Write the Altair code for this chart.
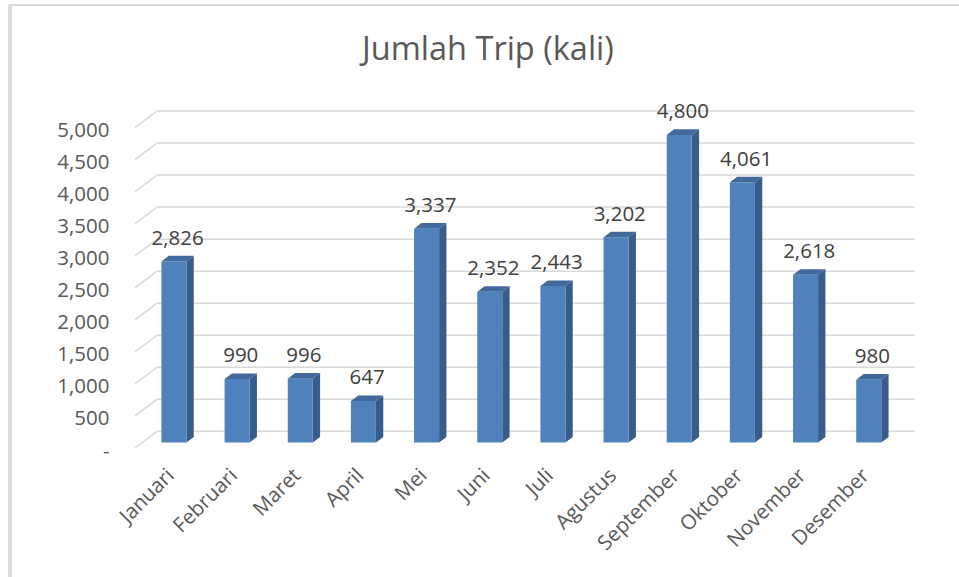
import altair as alt
import pandas as pd

# Monthly trip counts
months = ["Januari", "Februari", "Maret", "April", "Mei", "Juni", "Juli",
          "Agustus", "September", "Oktober", "November", "Desember"]
trips = [2826, 990, 996, 647, 3337, 2352, 2443, 3202, 4800, 4061, 2618, 980]
y_ticks = [0, 500, 1000, 1500, 2000, 2500, 3000, 3500, 4000, 4500, 5000]
title_text = "Jumlah Trip (kali)"

# 3-D projection: a full step of depth shifts points right (in category
# units) and up (in value units). Bars occupy the middle third of the depth.
DEPTH_X = 0.3487
DEPTH_Y = 260
BAR_W = 0.396
Z_FRONT, Z_BACK = 1 / 3, 2 / 3

FRONT = "#4F81BD"
SIDE = "#385D8A"
TOP = "#41699C"
GRID = "#D9D9D9"
TEXT = "#595959"
FONT = "Open Sans"

n = len(months)
x_lo, x_hi = -0.5, n - 0.5
y_max = max(y_ticks) + DEPTH_Y

# front faces
front = pd.DataFrame({
    "month": months,
    "x": [i + DEPTH_X * Z_FRONT - BAR_W / 2 for i in range(n)],
    "x2": [i + DEPTH_X * Z_FRONT + BAR_W / 2 for i in range(n)],
    "y": [v + DEPTH_Y * Z_FRONT for v in trips],
    "y2": [DEPTH_Y * Z_FRONT] * n,
})

# side faces (parallelograms between front and back depth)
side_rows = []
for i, (m, v) in enumerate(zip(months, trips)):
    for z in (Z_FRONT, Z_BACK):
        side_rows.append({
            "month": m,
            "x": i + BAR_W / 2 + DEPTH_X * z,
            "y": v + DEPTH_Y * z,
            "y2": DEPTH_Y * z,
        })
side = pd.DataFrame(side_rows)

# top faces
top_rows = []
ddx = DEPTH_X * (Z_BACK - Z_FRONT)
ddy = DEPTH_Y * (Z_BACK - Z_FRONT)
for i, (m, v) in enumerate(zip(months, trips)):
    xl = i + DEPTH_X * Z_FRONT - BAR_W / 2
    xr = xl + BAR_W
    base = v + DEPTH_Y * Z_FRONT
    for px, py, py2 in [(xl, base, base), (xl + ddx, base, base + ddy),
                        (xr, base, base + ddy), (xr + ddx, base + ddy, base + ddy)]:
        top_rows.append({"month": m, "x": px, "y": py, "y2": py2})
top = pd.DataFrame(top_rows)

labels = pd.DataFrame({
    "month": months,
    "trips": trips,
    "x": [i + DEPTH_X * 0.5 for i in range(n)],
    "y": [v + DEPTH_Y * Z_BACK for v in trips],
})

grid = pd.DataFrame({"g": y_ticks})
grid["back"] = grid["g"] + DEPTH_Y
grid["lx"] = x_lo
grid["rx"] = x_lo + DEPTH_X

xs = alt.Scale(domain=[x_lo, x_hi + DEPTH_X], nice=False, zero=False)
ys = alt.Scale(domain=[0, y_max], nice=False, zero=False)

month_js = "[" + ",".join("'%s'" % m for m in months) + "]"

# shared axes: month names under the floor, value labels at the front edge
xaxis = alt.Axis(
    values=list(range(n)), labelExpr=month_js + "[datum.value]",
    labelAngle=-45, labelOverlap=False, domain=False, ticks=False, grid=False,
    title=None, labelFont=FONT, labelFontSize=20.5, labelColor=TEXT,
    labelPadding=17, labelOffset=-3)
yaxis = alt.Axis(
    values=y_ticks, labelExpr="datum.value == 0 ? '-' : format(datum.value, ',')",
    labelOverlap=False, domain=False, ticks=False, grid=False, title=None,
    labelFont=FONT, labelFontSize=20.5, labelColor=TEXT, labelPadding=26,
    labelOffset=3)


def X(field):
    return alt.X(field, scale=xs, axis=xaxis)


def Y(field, **kw):
    return alt.Y(field, scale=ys, axis=yaxis, **kw)


# back-wall gridlines
wall = alt.Chart(grid).mark_rule(color=GRID, strokeWidth=1.5).encode(
    x=X("rx:Q"), x2=alt.datum(x_hi + DEPTH_X),
    y=Y("back:Q"),
)

# slanted side-wall gridlines
slant = alt.Chart(grid).mark_rule(color=GRID, strokeWidth=1.5).encode(
    x=X("lx:Q"), x2="rx:Q",
    y=Y("g:Q"), y2="back:Q",
)

front_faces = alt.Chart(front).mark_rect(color=FRONT).encode(
    x=X("x:Q"), x2="x2:Q",
    y=Y("y:Q"), y2="y2:Q",
)

side_faces = alt.Chart(side).mark_area(color=SIDE, interpolate="linear").encode(
    x=X("x:Q"),
    y=Y("y:Q", stack=None), y2="y2:Q",
    detail="month:N",
)

top_faces = alt.Chart(top).mark_area(color=TOP, interpolate="linear").encode(
    x=X("x:Q"),
    y=Y("y:Q", stack=None), y2="y2:Q",
    detail="month:N",
)

values = alt.Chart(labels).mark_text(
    font=FONT, fontSize=20.5, color="#404040", baseline="alphabetic", dy=-11
).encode(
    x=X("x:Q"),
    y=Y("y:Q"),
    text=alt.Text("trips:Q", format=","),
)

# chart title and frame (top and left edges)
title = alt.Chart(pd.DataFrame({"t": [title_text]})).mark_text(
    font=FONT, fontSize=32.5, color=TEXT, baseline="alphabetic", align="center"
).encode(x=alt.value(353), y=alt.value(-51), text="t:N")
frame_top = alt.Chart(grid).mark_rule(color=GRID, strokeWidth=1.5).encode(
    x=alt.value(-126), x2=alt.value(824), y=alt.value(-106))
frame_left = alt.Chart(grid).mark_rule(color="#DDDDDD", strokeWidth=3).encode(
    x=alt.value(-125), y=alt.value(-106), y2=alt.value(466))

chart = alt.layer(
    frame_top, frame_left, title, wall, slant, side_faces, front_faces,
    top_faces, values
).properties(
    width=780, height=337,
    autosize="none",
    background="white",
    padding={"left": 135, "top": 111, "right": 44, "bottom": 129},
).configure_view(strokeWidth=0)

chart.save("out.html", embed_options={"renderer": "svg", "actions": False})
